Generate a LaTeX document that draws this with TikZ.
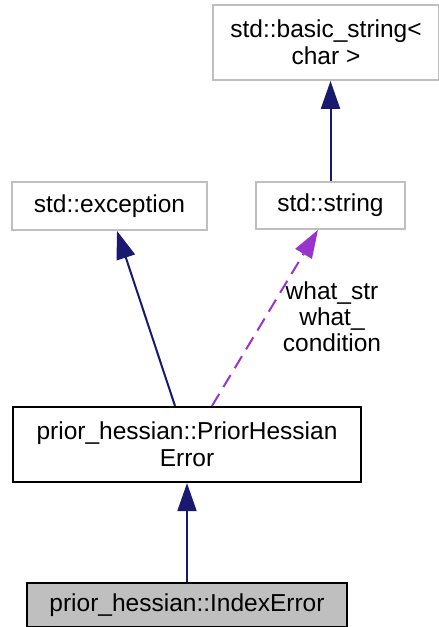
\documentclass[tikz,border=0pt]{standalone}
\usepackage{fontspec}
\setmainfont{Liberation Sans}
\usetikzlibrary{arrows.meta}
\definecolor{navy}{HTML}{191970}
\definecolor{orchid}{HTML}{9A32CD}
\definecolor{boxgray}{HTML}{BFBFBF}
\begin{document}
\begin{tikzpicture}[x=1pt,y=-1pt,
  box/.style={draw=boxgray,line width=1.8pt,rectangle,inner sep=0pt,align=center,font=\fontsize{24.5}{27}\selectfont},
  mainbox/.style={box,draw=black,line width=2.2pt},
  inh/.style={draw=navy,line width=2pt,-{Triangle[length=28pt,width=19pt,fill=navy]}},
  use/.style={draw=orchid,line width=2pt,dash pattern=on 14pt off 8pt,-{Triangle[length=28pt,width=19pt,fill=orchid]}},
  lbl/.style={align=center,inner sep=0pt,font=\fontsize{24.5}{26}\selectfont}]
\useasboundingbox (0,0) rectangle (439,627);
\node[box,minimum width=226pt,minimum height=75pt] (bs) at (326,42.5) {std::basic\_string<\\char >};
\node[box,minimum width=149pt,minimum height=47pt] (str) at (330.5,205.5) {std::string};
\node[box,minimum width=195pt,minimum height=48pt] (exc) at (109.5,206) {std::exception};
\node[mainbox,minimum width=348pt,minimum height=75pt] (phe) at (187,444.5) {prior\_hessian::PriorHessian\\Error};
\node[mainbox,fill=boxgray,minimum width=320pt,minimum height=44pt] (idx) at (187,605) {prior\_hessian::IndexError};
\draw[inh] (str.north) -- (str.north |- bs.south);
\draw[inh] ([xshift=-12pt]phe.north) -- ([xshift=7.5pt]exc.south);
\draw[use] ([xshift=25pt]phe.north) -- ([xshift=-12.5pt]str.south);
\draw[inh] (idx.north) -- (phe.south);
\node[lbl] (lab) at (332,317) {what\_str\\what\_\\condition};
\end{tikzpicture}
\end{document}
